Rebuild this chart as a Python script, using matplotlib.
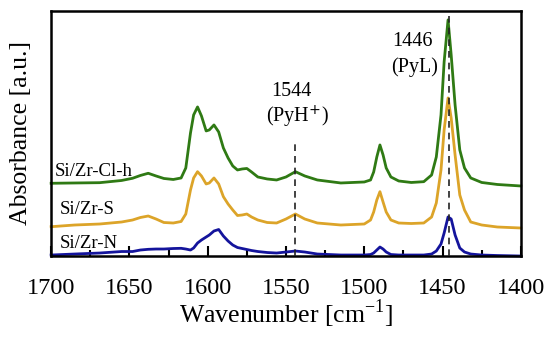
import matplotlib
matplotlib.use("Agg")
import matplotlib.pyplot as plt
from matplotlib.ticker import MultipleLocator

plt.rcParams['font.family'] = ['Liberation Serif', 'DejaVu Serif']

# wavenumber grid (cm-1)
wavenumber = [1700, 1685, 1669, 1655, 1648, 1643, 1638, 1633, 1628, 1622,
              1617, 1614, 1611, 1609, 1606.5, 1604, 1601, 1599, 1596, 1593,
              1590, 1587, 1584, 1581, 1578, 1575, 1572, 1568, 1562, 1556,
              1550, 1544, 1538, 1530, 1515, 1500, 1496, 1494, 1492, 1490,
              1488, 1486, 1483, 1478, 1470, 1462, 1457, 1454, 1451, 1449,
              1446.5, 1444.5, 1442, 1439, 1436, 1432, 1425, 1415, 1400]

# absorbance, arbitrary units (offset spectra)
abs_cl_h = [72.7, 73, 73.3, 75.5, 77.7, 80.5, 82.7, 80, 77.5, 76.5,
            78, 88, 123, 141, 149, 140, 125, 126, 131, 124,
            108, 98, 90, 86, 87, 87.5, 84, 79, 77, 76,
            79, 84.3, 80, 76, 73, 74, 76, 84, 99, 111,
            101, 88, 79, 75, 73.5, 74.3, 81, 99, 141, 194,
            236, 201, 151, 106, 88, 78, 73.5, 71.5, 70]
abs_s = [29.3, 31, 32, 34, 36, 38.5, 40, 37, 33.5, 33,
         34.5, 42, 66, 78, 84.3, 80, 72, 73, 78, 72,
         59.3, 52, 46, 40.5, 41, 42, 39, 36, 33.5, 33,
         37, 42, 37, 33, 31, 32, 36, 44, 56, 64.3,
         54, 44, 36, 33, 32.5, 33, 39, 53, 86, 126,
         158, 138, 101, 61, 46, 34, 31, 29, 28]
abs_n = [1, 2, 3, 4.5, 4.5, 6, 6.7, 7, 7, 7.5,
         7.7, 7, 6, 8, 13, 16, 19, 21, 25, 26.5,
         20, 15, 11, 8.5, 7.5, 6.5, 5.5, 4.5, 3.5, 3,
         4, 5, 4, 2, 1, 1, 1.5, 3, 6, 9,
         7, 4, 1.5, 1, 1, 1, 2, 5, 12, 23,
         39, 37, 21, 8, 4, 2, 1, 0.5, 0]

sample_names = ['Si/Zr-Cl-h', 'Si/Zr-S', 'Si/Zr-N']
colors = ['#2f7a14', '#dca429', '#14149c']

fig = plt.figure(figsize=(5.5, 3.4), dpi=100)
ax = fig.add_axes([0.093, 0.247, 0.854, 0.721])

for vals, name, c in zip([abs_cl_h, abs_s, abs_n], sample_names, colors):
    ax.plot(wavenumber, vals, color=c, lw=2.0, clip_on=False, zorder=2)

ax.set_xlim(1700, 1400)
ax.set_ylim(0, 245)

# band markers
ax.plot([1544, 1544], [0, 114], ls=(0, (4, 3)), color='#222222', lw=1.2, zorder=3)
ax.plot([1446, 1446], [0, 245], ls=(0, (4, 3)), color='#222222', lw=1.2, zorder=3)
ax.text(1546.5, 164, '1544', ha='center', va='center', fontsize=14.5)
ax.text(1543, 139, '(PyH$^{+}$)', ha='center', va='center', fontsize=14.5)
ax.text(1469.5, 214, '1446', ha='center', va='center', fontsize=14.5)
ax.text(1468, 189, '(PyL)', ha='center', va='center', fontsize=14.5)

# sample labels
ax.text(1697.5, 84, 'Si/Zr-Cl-h', ha='left', va='center', fontsize=13.5)
ax.text(1694.5, 46, 'Si/Zr-S', ha='left', va='center', fontsize=13.5)
ax.text(1694.5, 13, 'Si/Zr-N', ha='left', va='center', fontsize=13.5)

ax.xaxis.set_major_locator(MultipleLocator(50))
ax.xaxis.set_minor_locator(MultipleLocator(25))
ax.tick_params(axis='x', which='major', direction='in', length=7, width=1.5,
               labelsize=17.5, pad=16)
ax.tick_params(axis='x', which='minor', direction='in', length=4, width=1.5)
ax.set_yticks([])
for sp in ax.spines.values():
    sp.set_linewidth(1.8)

ax.set_xlabel('Wavenumber [cm$^{\\mathregular{-1}}$]', fontsize=18.5, labelpad=-1)
ax.set_ylabel('Absorbance [a.u.]', fontsize=18.5, labelpad=14)

fig.savefig('out.png', dpi=100)
